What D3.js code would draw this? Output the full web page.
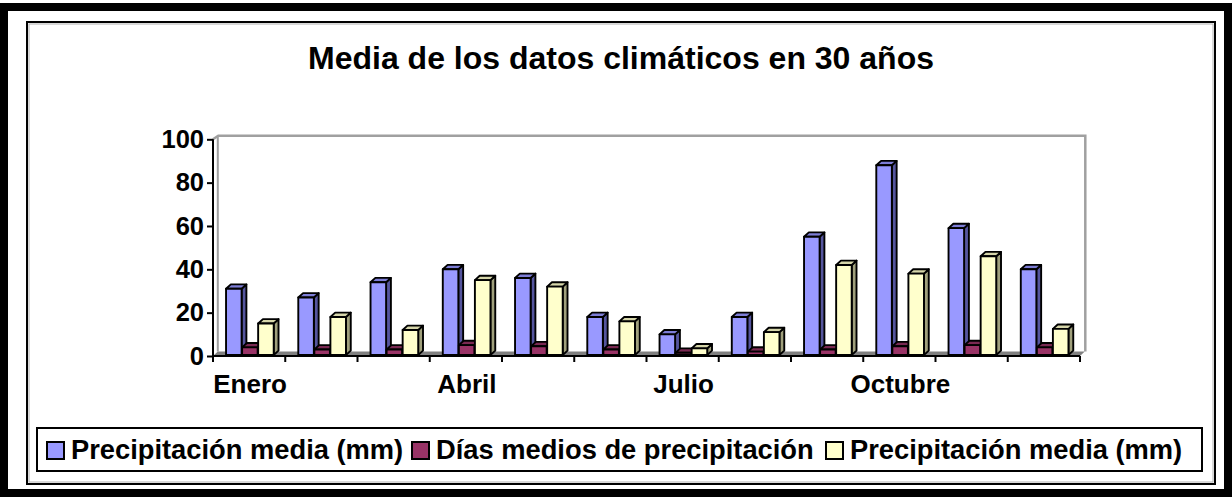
<!DOCTYPE html>
<html>
<head>
<meta charset="utf-8">
<script src="https://cdn.jsdelivr.net/npm/d3@7"></script>
<style>
  html, body { margin: 0; padding: 0; background: #ffffff; }
  svg { display: block; font-family: "Liberation Sans", Arial, sans-serif; font-weight: bold; }
</style>
</head>
<body>
<svg id="chart" width="1232" height="497"></svg>
<script>
// Monthly climate averages (30-year means)
const months = ["Enero", "Febrero", "Marzo", "Abril", "Mayo", "Junio",
                "Julio", "Agosto", "Septiembre", "Octubre", "Noviembre", "Diciembre"];
const tickLabels = ["Enero", "Abril", "Julio", "Octubre"];
const yTicks = [0, 20, 40, 60, 80, 100];

const precipMedia = [31, 27, 34, 40, 36, 18, 10, 18, 55, 88, 59, 40];
const diasPrecip  = [4, 3, 3, 5, 4.5, 3, 1.5, 2, 3, 4.5, 5, 4];
const precipMedia2 = [15, 18, 12, 35, 32, 16, 3.5, 11, 42, 38, 46, 12.5];

const seriesNames = ["Precipitación media (mm)", "Días medios de precipitación", "Precipitación media (mm)"];
const seriesValues = [precipMedia, diasPrecip, precipMedia2];

// front, side, top shading per series
const palette = [
  { front: "#9999ff", side: "#55559e", top: "#7d7dd6" },
  { front: "#993366", side: "#5e1f3f", top: "#7a2952" },
  { front: "#ffffcc", side: "#a0a07c", top: "#d6d6aa" }
];

const svg = d3.select("#chart");

// outer heavy frame and inner chart-area frame
svg.append("rect").attr("x", 4).attr("y", 7).attr("width", 1224).attr("height", 486)
  .attr("fill", "none").attr("stroke", "#000").attr("stroke-width", 8);
svg.append("rect").attr("x", 27).attr("y", 22).attr("width", 1188).attr("height", 462)
  .attr("fill", "none").attr("stroke", "#000").attr("stroke-width", 2);
svg.append("rect").attr("x", 29).attr("y", 24).attr("width", 1184).attr("height", 458)
  .attr("fill", "none").attr("stroke", "#b0b0b0").attr("stroke-width", 1);

// title
svg.append("text").attr("x", 621).attr("y", 69).attr("text-anchor", "middle")
  .attr("font-size", 32).text("Media de los datos climáticos en 30 años");

// plot geometry
const plotLeft = 213, plotRight = 1080, plotBottom = 356, plotTop = 139.3;
const dx = 4.8, dy = 4.4;

const x = d3.scaleBand().domain(months).range([plotLeft, plotRight]);
const y = d3.scaleLinear().domain([0, 100]).range([plotBottom, plotTop]);

// back walls and floor
const wallTop = y(100) - 3.6;
const walls = svg.append("g");
walls.append("polygon")
  .attr("points", [[plotLeft, plotBottom], [plotLeft + dx, plotBottom - dy], [plotRight + dx, plotBottom - dy], [plotRight, plotBottom]].join(" "))
  .attr("fill", "#808080");
walls.append("path")
  .attr("d", `M${plotLeft},${y(100)} L${plotLeft + dx + 0.5},${wallTop} L${plotRight + dx + 0.5},${wallTop} L${plotRight + dx + 0.5},${plotBottom - dy}`)
  .attr("fill", "none").attr("stroke", "#a0a0a0").attr("stroke-width", 2.5);
walls.append("line")
  .attr("x1", plotLeft + dx).attr("x2", plotLeft + dx).attr("y1", wallTop).attr("y2", plotBottom - dy)
  .attr("stroke", "#a0a0a0").attr("stroke-width", 2);

// bars
const bw = x.bandwidth() / 4.5;
const bars = svg.append("g").attr("stroke", "#000").attr("stroke-width", 1.9).attr("stroke-linejoin", "round");
months.forEach((m, i) => {
  const gx = x(m) + (x.bandwidth() - 3 * bw) / 2 + 1;
  seriesValues.forEach((vals, s) => {
    const v = vals[i];
    const x0 = gx + s * bw, x1 = x0 + bw - 0.5;
    const yt = y(v), yb = y(0) - 1;
    const c = palette[s];
    bars.append("polygon")
      .attr("points", [[x1, yt], [x1 + dx, yt - dy], [x1 + dx, yb - dy], [x1, yb]].join(" "))
      .attr("fill", c.side);
    bars.append("polygon")
      .attr("points", [[x0, yt], [x0 + dx, yt - dy], [x1 + dx, yt - dy], [x1, yt]].join(" "))
      .attr("fill", c.top);
    bars.append("rect")
      .attr("x", x0).attr("y", yt).attr("width", x1 - x0).attr("height", Math.max(0, yb - yt))
      .attr("fill", c.front);
  });
});

// y axis
const yAxis = svg.append("g").attr("transform", `translate(${plotLeft},0)`)
  .call(d3.axisLeft(y).tickValues(yTicks).tickSize(6).tickPadding(3).tickFormat(d3.format("d")));
yAxis.select(".domain").attr("stroke", "#000").attr("stroke-width", 2).attr("d", `M0,${plotTop}V${plotBottom}`);
yAxis.selectAll(".tick line").attr("stroke", "#000").attr("stroke-width", 2);
yAxis.selectAll(".tick text").attr("font-size", 25.5).attr("font-weight", "bold")
  .attr("font-family", "'Liberation Sans', Arial, sans-serif").attr("fill", "#000");

// x axis: ticks at category boundaries, labels every third month
const xAxis = svg.append("g");
xAxis.append("line").attr("x1", plotLeft).attr("x2", plotRight).attr("y1", plotBottom).attr("y2", plotBottom)
  .attr("stroke", "#000").attr("stroke-width", 2);
const edges = months.map(m => x(m)).concat([plotRight]);
xAxis.selectAll("line.tick").data(edges).join("line").attr("class", "tick")
  .attr("x1", d => d).attr("x2", d => d).attr("y1", plotBottom).attr("y2", plotBottom + 6)
  .attr("stroke", "#000").attr("stroke-width", 2);
xAxis.selectAll("text").data(tickLabels).join("text")
  .attr("x", d => x(d) + x.bandwidth() / 2 + 1).attr("y", 393)
  .attr("text-anchor", "middle").attr("font-size", 26).text(d => d);

// legend
const lg = svg.append("g");
lg.append("rect").attr("x", 37).attr("y", 428).attr("width", 1165).attr("height", 43)
  .attr("fill", "#fff").attr("stroke", "#000").attr("stroke-width", 2);
const legendX = [47, 412, 826];
seriesNames.forEach((name, s) => {
  lg.append("rect").attr("x", legendX[s]).attr("y", 442).attr("width", 17).attr("height", 17)
    .attr("fill", palette[s].front).attr("stroke", "#000").attr("stroke-width", 2);
  lg.append("text").attr("x", legendX[s] + 24).attr("y", 459)
    .attr("font-size", 27.3).text(name);
});
</script>
</body>
</html>
